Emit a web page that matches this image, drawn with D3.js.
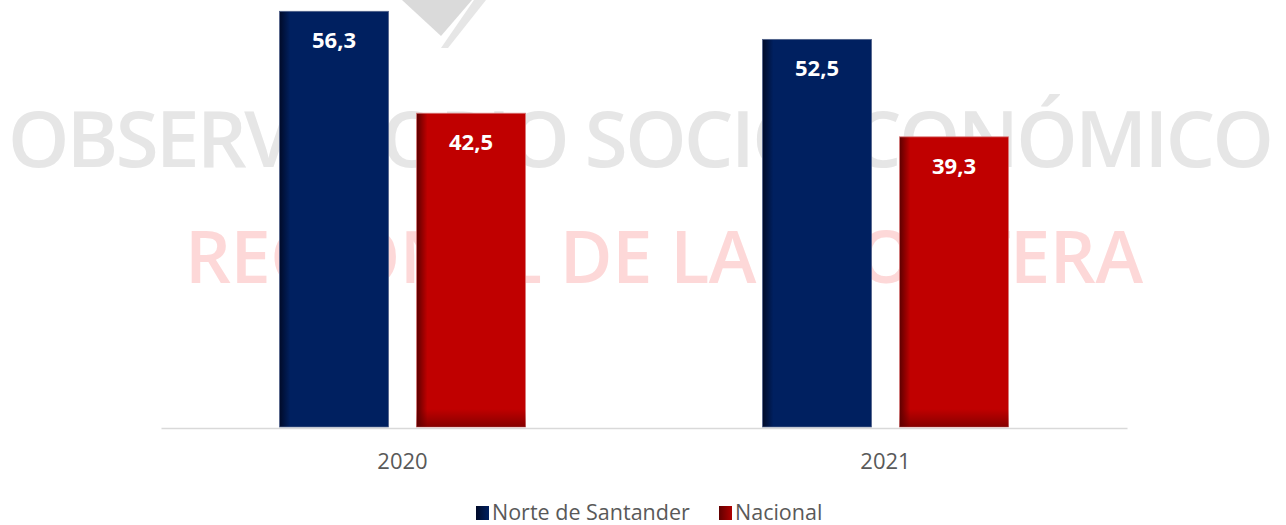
<!DOCTYPE html>
<html>
<head>
<meta charset="utf-8">
<script src="https://cdn.jsdelivr.net/npm/d3@7"></script>
<style>
  body { margin: 0; background: #fff; }
  svg { display: block; }
</style>
</head>
<body>
<div id="chart"></div>
<script>
// data
var years = ["2020", "2021"];
var seriesNames = ["Norte de Santander", "Nacional"];
var norteValues = [56.3, 52.5];
var nacionalValues = [42.5, 39.3];

var W = 1286, H = 525;
var fontFamily = "'Open Sans', 'Liberation Sans', sans-serif";

var svg = d3.select("#chart").append("svg")
    .attr("width", W)
    .attr("height", H);

var defs = svg.append("defs");

// left edge shading on bars
function sideGradient(id, dark, base) {
    var g = defs.append("linearGradient").attr("id", id)
        .attr("x1", 0).attr("x2", 1).attr("y1", 0).attr("y2", 0);
    g.append("stop").attr("offset", "0%").attr("stop-color", dark);
    g.append("stop").attr("offset", "10%").attr("stop-color", base);
    g.append("stop").attr("offset", "100%").attr("stop-color", base);
}
sideGradient("gradNorte", "#000a28", "#002060");
sideGradient("gradNacional", "#5c0000", "#c00000");

var bottomShade = defs.append("linearGradient").attr("id", "bottomShade")
    .attr("x1", 0).attr("x2", 0).attr("y1", 0).attr("y2", 1);
bottomShade.append("stop").attr("offset", "0%").attr("stop-color", "#600000").attr("stop-opacity", 0);
bottomShade.append("stop").attr("offset", "100%").attr("stop-color", "#600000").attr("stop-opacity", 0.6);

var legendNorte = defs.append("linearGradient").attr("id", "legNorte")
    .attr("x1", 0).attr("x2", 1);
legendNorte.append("stop").attr("offset", "0%").attr("stop-color", "#000a28");
legendNorte.append("stop").attr("offset", "100%").attr("stop-color", "#002060");
var legendNac = defs.append("linearGradient").attr("id", "legNac")
    .attr("x1", 0).attr("x2", 1);
legendNac.append("stop").attr("offset", "0%").attr("stop-color", "#600000");
legendNac.append("stop").attr("offset", "100%").attr("stop-color", "#b00000");

// watermark behind the chart
var wm = svg.append("g").attr("class", "watermark");
wm.append("path")
    .attr("d", "M402,0 L472,0 L441,36 Z")
    .attr("fill", "#dadada");
wm.append("path")
    .attr("d", "M474,0 L486,0 L448,48 L441,48 Z")
    .attr("fill", "#e6e6e6");
wm.append("text")
    .attr("x", 8).attr("y", 167)
    .attr("textLength", 1266)
    .attr("lengthAdjust", "spacing")
    .style("font-family", fontFamily)
    .style("font-size", "78px")
    .style("font-weight", "600")
    .attr("fill", "#e6e6e6")
    .text("OBSERVATORIO SOCIOECONÓMICO");
wm.append("text")
    .attr("x", 185).attr("y", 283)
    .attr("textLength", 958)
    .attr("lengthAdjust", "spacing")
    .style("font-family", fontFamily)
    .style("font-size", "72px")
    .style("font-weight", "600")
    .attr("fill", "#fdd8d8")
    .text("REGIONAL DE LA FRONTERA");

// scales
var x0 = d3.scaleBand().domain(years).range([161, 1127]).padding(0);
var x1 = d3.scaleBand().domain(seriesNames)
    .range([118.5, x0.bandwidth() - 118.5])
    .paddingInner(0.2044)
    .paddingOuter(0);
var y = d3.scaleLinear().domain([0, 60]).range([427, -16]);

var fmt = function(v) { return d3.format(".1f")(v).replace(".", ","); };

var rows = years.map(function(yr, i) {
    return [
        { year: yr, key: seriesNames[0], value: norteValues[i] },
        { year: yr, key: seriesNames[1], value: nacionalValues[i] }
    ];
});

var groups = svg.selectAll(".group")
    .data(rows)
    .enter().append("g")
    .attr("class", "group")
    .attr("transform", function(d) { return "translate(" + x0(d[0].year) + ",0)"; });

var bars = groups.selectAll(".bar")
    .data(function(d) { return d; })
    .enter().append("g")
    .attr("class", "bar");

bars.append("rect")
    .attr("x", function(d) { return x1(d.key); })
    .attr("y", function(d) { return y(d.value); })
    .attr("width", x1.bandwidth())
    .attr("height", function(d) { return y(0) - y(d.value); })
    .attr("fill", function(d) { return d.key == seriesNames[0] ? "url(#gradNorte)" : "url(#gradNacional)"; })
    .attr("stroke", function(d) { return d.key == seriesNames[0] ? "#51628a" : "#d97a7a"; })
    .attr("stroke-width", 0.8);

// darker bottom on the red bars
bars.filter(function(d) { return d.key == seriesNames[1]; })
    .append("rect")
    .attr("x", function(d) { return x1(d.key); })
    .attr("y", y(0) - 18)
    .attr("width", x1.bandwidth())
    .attr("height", 18)
    .attr("fill", "url(#bottomShade)");

bars.append("text")
    .attr("x", function(d) { return x1(d.key) + x1.bandwidth() / 2; })
    .attr("y", function(d) { return y(d.value) + 37; })
    .attr("text-anchor", "middle")
    .style("font-family", fontFamily)
    .style("font-size", "22px")
    .style("font-weight", "bold")
    .attr("fill", "#fff")
    .text(function(d) { return fmt(d.value); });

// category axis
var xAxis = svg.append("g")
    .attr("transform", "translate(0," + (y(0) + 1) + ")")
    .call(d3.axisBottom(x0).tickSize(0).tickPadding(25));
xAxis.select(".domain").attr("stroke", "#d9d9d9").attr("stroke-width", 1.5);
xAxis.selectAll("text")
    .style("font-family", fontFamily)
    .style("font-size", "22px")
    .attr("fill", "#595959");

// legend
var legendItems = [
    { name: seriesNames[0], fill: "url(#legNorte)", x: 476 },
    { name: seriesNames[1], fill: "url(#legNac)", x: 719 }
];
var legend = svg.selectAll(".legend")
    .data(legendItems)
    .enter().append("g")
    .attr("class", "legend")
    .attr("transform", function(d) { return "translate(" + d.x + ",506)"; });

legend.append("rect")
    .attr("width", 13)
    .attr("height", 14)
    .attr("fill", function(d) { return d.fill; });

legend.append("text")
    .attr("x", 16)
    .attr("y", 14)
    .style("font-family", fontFamily)
    .style("font-size", "21.5px")
    .attr("fill", "#595959")
    .text(function(d) { return d.name; });
</script>
</body>
</html>
